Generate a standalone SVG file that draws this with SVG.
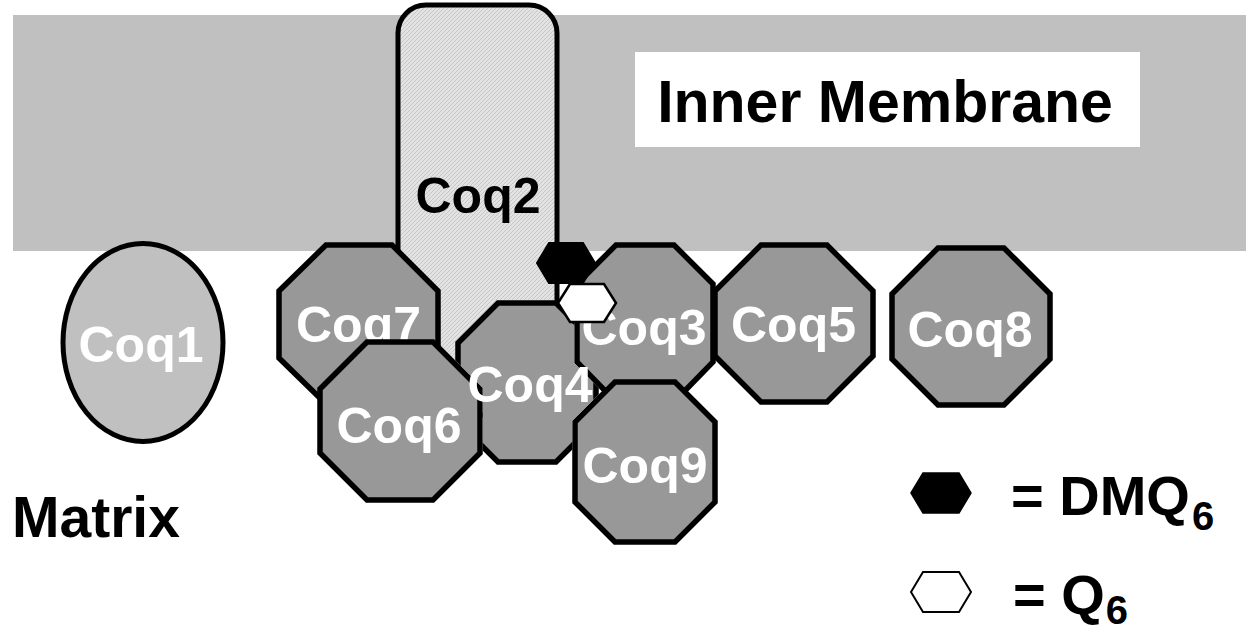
<svg xmlns="http://www.w3.org/2000/svg" width="1246" height="633" viewBox="0 0 1246 633">
<style>
  .oct { fill: #989898; stroke: #000; stroke-width: 5.5; stroke-linejoin: miter; }
  .lbl { font-family: "Liberation Sans", Arial, sans-serif; font-weight: bold; font-size: 50px; fill: #fff; text-anchor: middle; }
  .big { font-family: "Liberation Sans", Arial, sans-serif; font-weight: bold; fill: #000; }
</style>
<defs>
  <pattern id="hatch" width="4" height="4" patternUnits="userSpaceOnUse">
    <rect width="4" height="4" fill="#e3e3e3"/>
    <path d="M-1,1 L1,-1 M0,4 L4,0 M3,5 L5,3" stroke="#c6c6c6" stroke-width="1"/>
  </pattern>
  <mask id="m4" maskUnits="userSpaceOnUse" x="0" y="0" width="1246" height="633">
    <rect x="0" y="0" width="1246" height="633" fill="#fff"/>
    <polygon points="367,342 433,342 480,389 480,453 433,500 367,500 320,453 320,389" fill="#000" stroke="#000" stroke-width="5.5"/>
    <polygon points="616,245 674,245 713,284 713,362 674,402 616,402 577,362 577,284" fill="#000" stroke="#000" stroke-width="5.5"/>
    <polygon points="615,382 675,382 715,422 715,502 675,542 615,542 575,502 575,422" fill="#000" stroke="#000" stroke-width="5.5"/>
  </mask>
</defs>
<rect width="1246" height="633" fill="#fff"/>
<g id="membrane">
  <rect x="13" y="15" width="1233" height="236" fill="#c0c0c0"/>
  <rect x="635" y="52" width="505" height="95" fill="#fff"/>
  <text class="big" x="885" y="122" font-size="59" text-anchor="middle">Inner Membrane</text>
</g>
<g id="connectors"></g>
<g id="coq1">
  <ellipse cx="143" cy="342.5" rx="80" ry="99" fill="#c0c0c0" stroke="#000" stroke-width="5"/>
  <text class="lbl" x="141" y="362">Coq1</text>
</g>
<g id="coq2">
  <rect x="398" y="5" width="159" height="410" rx="28" ry="28" fill="url(#hatch)" stroke="#000" stroke-width="5"/>
  <text class="lbl" x="478" y="213" style="fill:#000">Coq2</text>
</g>
<g id="coq7">
  <polygon class="oct" points="326,245 392,245 438,291 438,358 392,404 326,404 279,358 279,291"/>
  <text class="lbl" x="358.5" y="342">Coq7</text>
</g>
<g id="coq6">
  <polygon class="oct" points="367,342 433,342 480,389 480,453 433,500 367,500 320,453 320,389"/>
  <text class="lbl" x="399" y="443">Coq6</text>
</g>
<g id="coq3">
  <polygon class="oct" points="616,245 674,245 713,284 713,362 674,402 616,402 577,362 577,284"/>
  <text class="lbl" x="644" y="345">Coq3</text>
</g>
<g id="coq9">
  <polygon class="oct" points="615,382 675,382 715,422 715,502 675,542 615,542 575,502 575,422"/>
  <text class="lbl" x="645" y="483">Coq9</text>
</g>
<g id="coq4">
  <polygon class="oct" mask="url(#m4)" points="498,303 556,303 596,343 596,422 556,462 498,462 458,422 458,343"/>
  <text class="lbl" x="530" y="402">Coq4</text>
</g>
<g id="coq5">
  <polygon class="oct" points="761,245 827,245 873,291 873,356 827,402 761,402 715,356 715,291"/>
  <text class="lbl" x="793.5" y="342">Coq5</text>
</g>
<g id="coq8">
  <polygon class="oct" points="938,248 1004,248 1050,294 1050,359 1004,405 938,405 892,359 892,294"/>
  <text class="lbl" x="970" y="347">Coq8</text>
</g>
<g id="dmq6-molecule">
  <polygon points="537,263 549,243 583,243 595,263 583,283 549,283" fill="#000" stroke="#000" stroke-width="2"/>
</g>
<g id="q6-molecule">
  <polygon points="558,303 570,284 604,284 616,303 604,322 570,322" fill="#fff" stroke="#000" stroke-width="2.5"/>
</g>
<g id="legend">
  <polygon points="911,493 923,473 959,473 971,493 959,513 923,513" fill="#000" stroke="#000" stroke-width="1.5"/>
  <text class="big" x="1011" y="515" font-size="56">= DMQ<tspan font-size="40" dx="2" dy="15">6</tspan></text>
  <polygon points="911,592 923,572 959,572 971,592 959,612 923,612" fill="#fff" stroke="#000" stroke-width="2"/>
  <text class="big" x="1013" y="614" font-size="56">= Q<tspan font-size="40" dx="1" dy="10">6</tspan></text>
</g>
<g id="matrix-label">
  <text class="big" x="12" y="537" font-size="57">Matrix</text>
</g>
</svg>
